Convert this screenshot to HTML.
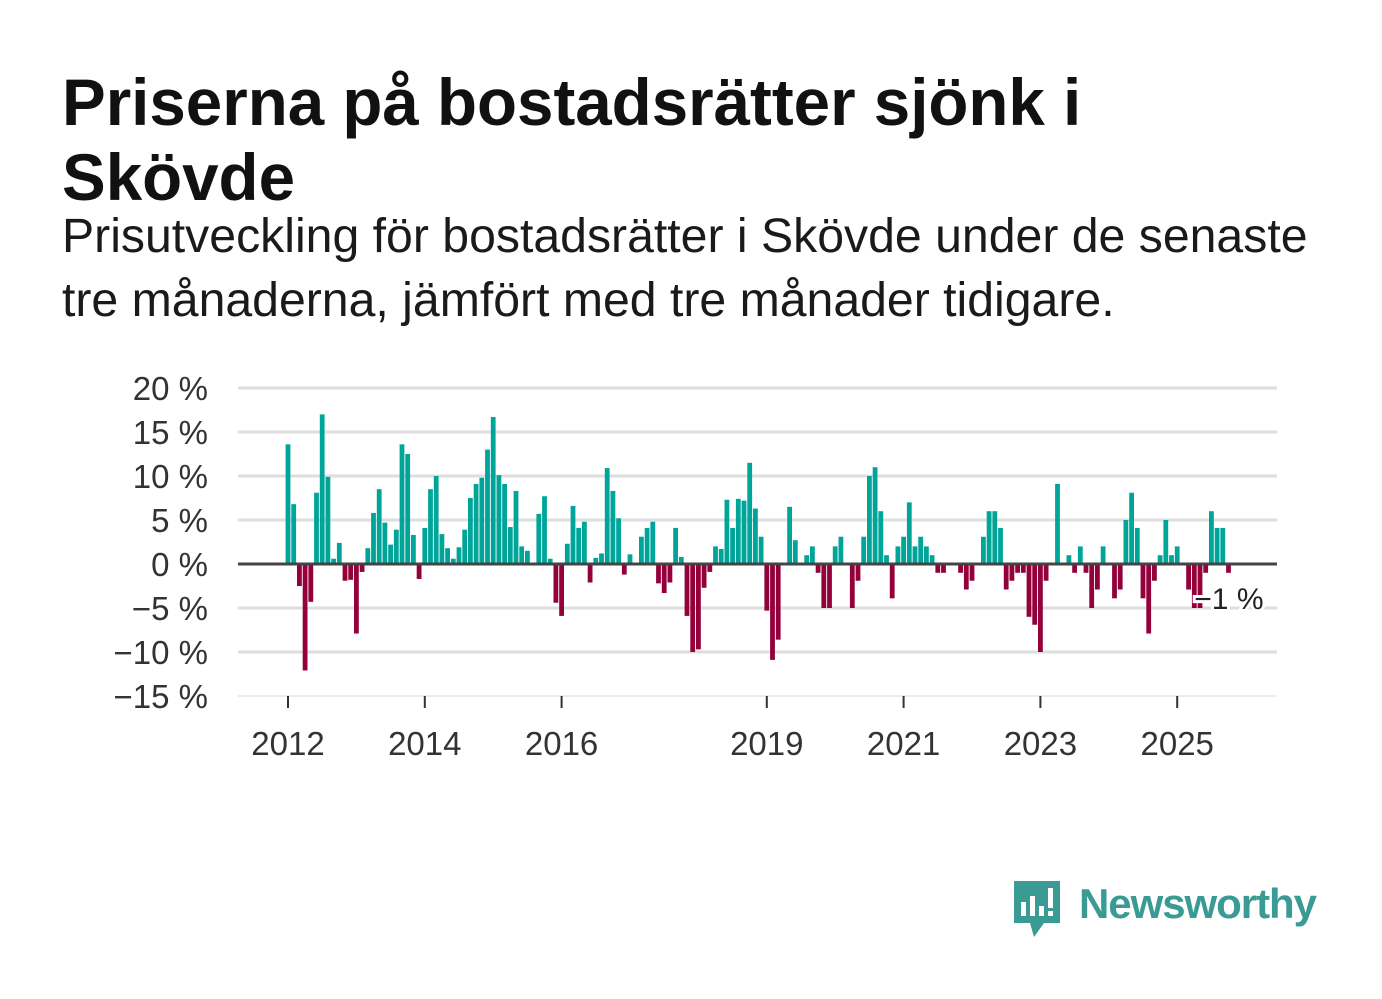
<!DOCTYPE html>
<html><head><meta charset="utf-8"><style>
body{margin:0;width:1382px;height:999px;background:#fff;overflow:hidden;font-family:"Liberation Sans","DejaVu Sans",sans-serif;color:#111}
#title{position:absolute;left:62px;top:65px;font-size:65.5px;font-weight:bold;line-height:75px;width:1150px;margin:0}
#sub{position:absolute;left:62px;top:204px;font-size:48.2px;line-height:64px;width:1300px;margin:0;color:#1a1a1a}
svg{position:absolute;left:0;top:0}
</style></head><body>
<h1 id="title">Priserna på bostadsrätter sjönk i Skövde</h1>
<p id="sub">Prisutveckling för bostadsrätter i Skövde under de senaste tre månaderna, jämfört med tre månader tidigare.</p>
<svg id="chart" width="1382" height="999"></svg>
<script>
const startYear = 2012;
const values = [
13.6,6.8,-2.5,-12.1,-4.3,8.1,17.0,9.9,0.6,2.4,-1.9,-1.8,
-7.9,-0.9,1.8,5.8,8.5,4.7,2.2,3.9,13.6,12.5,3.3,-1.7,
4.1,8.5,10.0,3.4,1.8,0.6,1.9,3.9,7.5,9.1,9.8,13.0,
16.7,10.1,9.1,4.2,8.3,2.0,1.5,0,5.7,7.7,0.6,-4.4,
-5.9,2.3,6.6,4.1,4.8,-2.1,0.7,1.2,10.9,8.3,5.2,-1.2,
1.1,0,3.1,4.1,4.8,-2.2,-3.3,-2.1,4.1,0.8,-5.9,-10.0,
-9.7,-2.7,-0.9,2.0,1.7,7.3,4.1,7.4,7.2,11.5,6.3,3.1,
-5.3,-10.9,-8.6,0,6.5,2.7,0,1.0,2.0,-1.0,-5.0,-5.0,
2.0,3.1,0,-5.0,-1.9,3.1,10.0,11.0,6.0,1.0,-3.9,2.0,
3.1,7.0,2.0,3.1,2.0,1.0,-1.0,-1.0,0,0,-1.0,-2.9,
-1.9,0,3.1,6.0,6.0,4.1,-2.9,-1.9,-1.0,-1.0,-6.0,-6.9,
-10.0,-1.9,0,9.1,0,1.0,-1.0,2.0,-1.0,-5.0,-2.9,2.0,
0,-3.9,-2.9,5.0,8.1,4.1,-3.9,-7.9,-1.9,1.0,5.0,1.0,
2.0,0,-2.9,-5.0,-5.0,-1.0,6.0,4.1,4.1,-1.0
];
const yTicks = [20,15,10,5,0,-5,-10,-15];
const xTickYears = [2012,2014,2016,2019,2021,2023,2025];
const lastLabel = "−1 %";

const NS="http://www.w3.org/2000/svg";
const svg=document.getElementById('chart');
const x0=288, monthW=68.4/12, plotL=238, plotR=1277;
const yScale=v=>564 - v*8.8;
const xScale=m=>x0 + m*monthW;
function mk(tag,attrs){const e=document.createElementNS(NS,tag);for(const k in attrs)e.setAttribute(k,attrs[k]);svg.appendChild(e);return e;}
yTicks.forEach(t=>{
  const g=mk('line',{x1:plotL,x2:plotR,y1:yScale(t),y2:yScale(t),stroke:t===-15?'#e6e6e6':'#dedede','stroke-width':t===-15?1.5:3});
  
  
  const tx=mk('text',{x:208,y:yScale(t)+12,'text-anchor':'end','font-size':33,fill:'#333','font-family':'Liberation Sans, sans-serif'});
  tx.textContent=(t<0?'−'+(-t):t)+' %';
  
  
});
values.forEach((v,i)=>{
  if(v===0)return;
  const y=yScale(Math.max(v,0)), h=Math.abs(yScale(v)-yScale(0));
  const r=mk('rect',{x:xScale(i)-2.4,y:y,width:4.8,height:h,fill:v>0?'#00a599':'#93003a'});
  
  
});
const zl=mk('line',{x1:plotL,x2:plotR,y1:yScale(0),y2:yScale(0),stroke:'#444','stroke-width':3});


xTickYears.forEach(yr=>{
  const x=xScale((yr-startYear)*12);
  const tk=mk('line',{x1:x,x2:x,y1:696,y2:708,stroke:'#333','stroke-width':2});
  
  
  const tx=mk('text',{x:x,y:755,'text-anchor':'middle','font-size':33,fill:'#333','font-family':'Liberation Sans, sans-serif'});
  tx.textContent=yr;
  
  
});
const lx=xScale(values.length-1);
const lb=mk('text',{x:lx+35,y:609,'text-anchor':'end','font-size':30,fill:'#222',stroke:'#fff','stroke-width':6,'paint-order':'stroke','font-family':'Liberation Sans, sans-serif'});
lb.textContent=lastLabel;


</script>
<svg width="1382" height="999">
<path d="M1014 881 h46 v42 h-16 l-10 14 l-4 -14 h-16 z" fill="#3a9a94"/>
<rect x="1021" y="902" width="5" height="14" fill="#fff"/>
<rect x="1030" y="896" width="5" height="20" fill="#fff"/>
<rect x="1039" y="906" width="5" height="10" fill="#fff"/>
<rect x="1048" y="888" width="5" height="20" fill="#fff"/>
<rect x="1048" y="911" width="5" height="5" fill="#fff"/>
<text x="1079" y="918" font-size="42" font-weight="bold" fill="#3a9a94" font-family="Liberation Sans, sans-serif" textLength="238">Newsworthy</text>
</svg>
</body></html>
